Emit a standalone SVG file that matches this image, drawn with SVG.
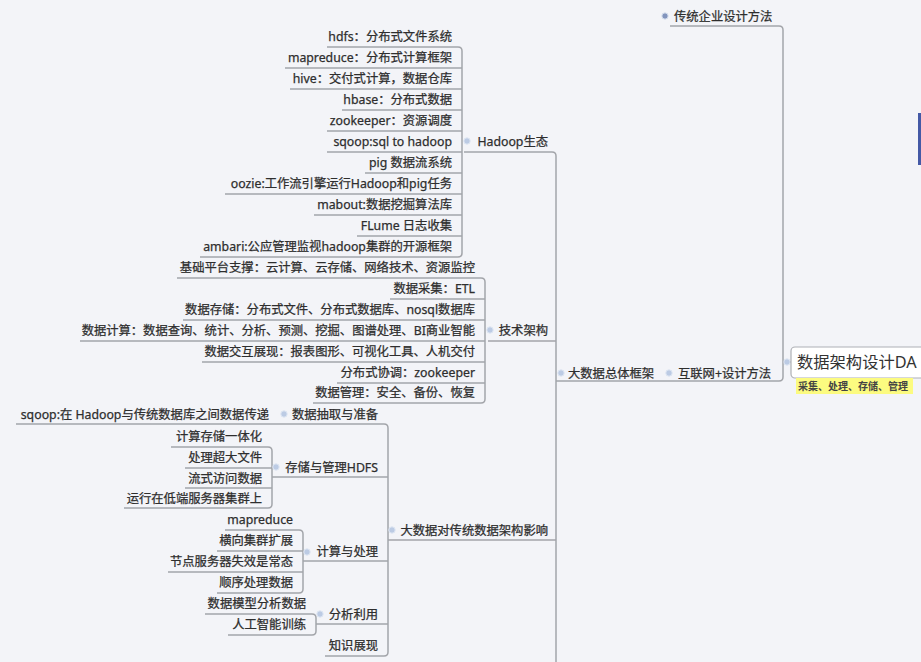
<svg xmlns="http://www.w3.org/2000/svg" width="921" height="662" viewBox="0 0 921 662">
<defs>
<style>
.bg{fill:#f3f4f8}
.ln{fill:none;stroke:#a3a5aa;stroke-width:1.5}
text{font-family:"Noto Sans","Noto Sans CJK SC",sans-serif;font-size:12.3px;fill:#2e2e2e;stroke:#2e2e2e;stroke-width:0.25}
.e{text-anchor:end}
.dot{fill:#bccbe4;stroke:#dfe7f3;stroke-width:1}
.dk{fill:#8294bd}
.root{fill:#fff;stroke:#aeb0b5;stroke-width:1.2}
.rt{font-size:16.3px;fill:#333;stroke:none}
.note{fill:#fcfb80}
.nt{font-size:10px;font-weight:bold;fill:#444;stroke:none}
</style>
</defs>
<rect class="bg" x="0" y="0" width="921" height="662"/>
<rect x="918" y="113" width="3" height="52" fill="#4459a6"/>

<g id="connectors">
<path class="ln" d="M670 26 H779 Q783 26 783 30 V377 Q783 381 779 381 H556"/>
<path class="ln" d="M783 362 H791"/>
<path class="ln" d="M464 152 H552 Q556 152 556 156 V662"/>
<path class="ln" d="M488 341 H556"/>
<path class="ln" d="M388 540 H556"/>
<path class="ln" d="M327 47 H458 Q462 47 462 51 V253 Q462 257 458 257 H200"/>
<path class="ln" d="M285 68 H462 M290 89 H462 M342 110 H462 M327 131 H462 M327 152 H462 M365 173 H462 M225 194 H462 M314 215 H462 M357 236 H462"/>
<path class="ln" d="M177 278 H481 Q485 278 485 282 V399 Q485 403 481 403 H313"/>
<path class="ln" d="M390 299 H485 M183 320 H485 M80 341 H485 M202 362 H485 M337 383 H485"/>
<path class="ln" d="M16 424 H384 Q388 424 388 428 V652 Q388 656 384 656 H325"/>
<path class="ln" d="M272 477 H388 M303 561 H388 M316 624 H388"/>
<path class="ln" d="M171 447 H268 Q272 447 272 451 V504 Q272 508 268 508 H124"/>
<path class="ln" d="M185 468 H272 M185 488 H272"/>
<path class="ln" d="M225 530 H299 Q303 530 303 534 V589 Q303 593 299 593 H217"/>
<path class="ln" d="M217 551 H303 M168 572 H303"/>
<path class="ln" d="M205 614 H312 Q316 614 316 618 V631 Q316 635 312 635 H228"/>
</g>

<g id="root">
<circle class="dot" cx="787" cy="362" r="3.2"/>
<rect class="root" x="791" y="347" width="136" height="31" rx="4"/>
<text class="rt" x="797" y="368">数据架构设计DA</text>
</g>
<g id="note">
<rect class="note" x="796" y="378" width="117" height="16"/>
<text class="nt" x="798" y="390">采集、处理、存储、管理</text>
</g>

<g id="n-traditional"><circle class="dot dk" cx="665" cy="16" r="3.2"/><text x="674" y="20.5">传统企业设计方法</text></g>
<g id="n-internet"><circle class="dot" cx="669" cy="373" r="3.2"/><text x="678" y="377.5">互联网+设计方法</text></g>
<g id="n-bigdata"><circle class="dot" cx="561" cy="373" r="3.2"/><text x="568" y="377.5">大数据总体框架</text></g>

<g id="n-hadoop"><circle class="dot" cx="467" cy="141" r="3.2"/><text class="e" x="548" y="145.5">Hadoop生态</text></g>
<g id="h1"><text class="e" x="452" y="40.5">hdfs：分布式文件系统</text></g>
<g id="h2"><text class="e" x="452" y="61.5">mapreduce：分布式计算框架</text></g>
<g id="h3"><text class="e" x="452" y="82.5">hive：交付式计算，数据仓库</text></g>
<g id="h4"><text class="e" x="452" y="103.5">hbase：分布式数据</text></g>
<g id="h5"><text class="e" x="452" y="124.5">zookeeper：资源调度</text></g>
<g id="h6"><text class="e" x="452" y="145.5">sqoop:sql to hadoop</text></g>
<g id="h7"><text class="e" x="452" y="166.5">pig 数据流系统</text></g>
<g id="h8"><text class="e" x="452" y="187.5">oozie:工作流引擎运行Hadoop和pig任务</text></g>
<g id="h9"><text class="e" x="452" y="208.5">mabout:数据挖掘算法库</text></g>
<g id="h10"><text class="e" x="452" y="229.5">FLume 日志收集</text></g>
<g id="h11"><text class="e" x="452" y="250.5">ambari:公应管理监视hadoop集群的开源框架</text></g>

<g id="n-tech"><circle class="dot" cx="490" cy="330" r="3.2"/><text class="e" x="548" y="334.5">技术架构</text></g>
<g id="t1"><text class="e" x="475" y="272">基础平台支撑：云计算、云存储、网络技术、资源监控</text></g>
<g id="t2"><text class="e" x="475" y="293">数据采集：ETL</text></g>
<g id="t3"><text class="e" x="475" y="313.5">数据存储：分布式文件、分布式数据库、nosql数据库</text></g>
<g id="t4"><text class="e" x="475" y="334.5">数据计算：数据查询、统计、分析、预测、挖掘、图谱处理、BI商业智能</text></g>
<g id="t5"><text class="e" x="475" y="355.5">数据交互展现：报表图形、可视化工具、人机交付</text></g>
<g id="t6"><text class="e" x="475" y="376.5">分布式协调：zookeeper</text></g>
<g id="t7"><text class="e" x="475" y="397">数据管理：安全、备份、恢复</text></g>

<g id="n-impact"><circle class="dot" cx="392" cy="530" r="3.2"/><text class="e" x="548" y="534.5">大数据对传统数据架构影响</text></g>
<g id="n-extract"><circle class="dot" cx="284" cy="414" r="3.2"/><text class="e" x="378" y="418.5">数据抽取与准备</text></g>
<g id="e1"><text class="e" x="269" y="418.5">sqoop:在 Hadoop与传统数据库之间数据传递</text></g>
<g id="n-hdfs"><circle class="dot" cx="276" cy="467" r="3.2"/><text class="e" x="378" y="471.5">存储与管理HDFS</text></g>
<g id="s1"><text class="e" x="262" y="440.5">计算存储一体化</text></g>
<g id="s2"><text class="e" x="262" y="461.5">处理超大文件</text></g>
<g id="s3"><text class="e" x="262" y="482.5">流式访问数据</text></g>
<g id="s4"><text class="e" x="262" y="503">运行在低端服务器集群上</text></g>
<g id="n-compute"><circle class="dot" cx="307" cy="552" r="3.2"/><text class="e" x="378" y="556">计算与处理</text></g>
<g id="c1"><text class="e" x="293" y="524">mapreduce</text></g>
<g id="c2"><text class="e" x="293" y="545">横向集群扩展</text></g>
<g id="c3"><text class="e" x="293" y="566">节点服务器失效是常态</text></g>
<g id="c4"><text class="e" x="293" y="587">顺序处理数据</text></g>
<g id="n-analysis"><circle class="dot" cx="320" cy="614" r="3.2"/><text class="e" x="378" y="618.5">分析利用</text></g>
<g id="a1"><text class="e" x="306" y="608">数据模型分析数据</text></g>
<g id="a2"><text class="e" x="306" y="629">人工智能训练</text></g>
<g id="n-knowledge"><text class="e" x="378" y="650">知识展现</text></g>
</svg>
